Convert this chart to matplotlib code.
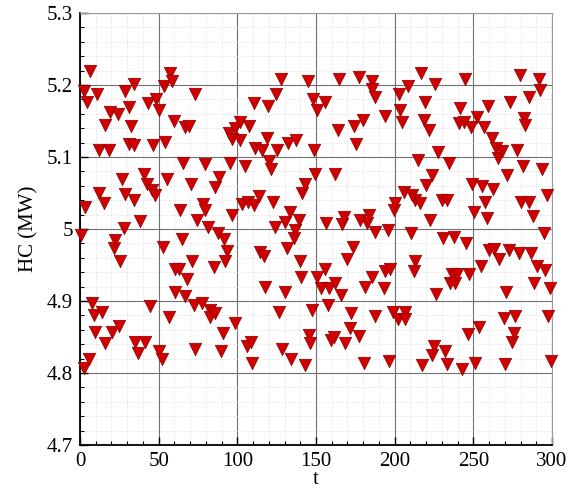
import matplotlib
matplotlib.use("Agg")
import matplotlib.pyplot as plt
from matplotlib.ticker import MultipleLocator

t = [0.8, 2.3, 2.3, 3.4, 4.5, 5.5, 6.6, 7.6, 8.7, 9.7, 10.8, 11.9, 11.9, 14.0, 15.1, 15.7, 16.1, 18.2, 19.3, 20.3,
     21.4, 22.5, 24.2, 24.6, 25.6, 26.7, 27.8, 28.8, 28.8, 30.9, 31.4, 32.6, 34.1, 34.1, 34.1, 35.2, 36.8, 38.0, 40.5, 41.5,
     42.6, 43.2, 44.7, 45.8, 46.2, 47.9, 48.3, 50.0, 50.0, 52.1, 52.6, 53.2, 54.2, 55.3, 56.4, 57.4, 58.5, 59.6, 60.6, 60.6,
     62.7, 63.8, 64.8, 65.3, 66.5, 67.0, 68.0, 69.5, 70.8, 71.2, 72.2, 72.9, 73.3, 74.4, 77.6, 78.0, 79.3, 79.3, 81.4, 82.8,
     82.8, 85.0, 85.6, 86.0, 87.7, 88.6, 89.8, 90.7, 91.3, 92.4, 93.4, 94.5, 95.6, 96.6, 96.6, 98.7, 98.7, 101.9, 101.9, 103.0,
     104.7, 106.2, 106.8, 107.2, 108.9, 109.3, 110.4, 110.4, 111.5, 113.6, 114.6, 115.7, 116.8, 117.8, 118.9, 119.5, 120.3, 121.6, 122.5, 123.8,
     124.6, 125.2, 126.3, 128.0, 128.4, 130.1, 130.5, 131.6, 132.2, 133.7, 134.3, 135.9, 136.5, 137.3, 139.0, 140.1, 140.7, 141.1, 142.8, 143.2,
     144.9, 145.4, 146.4, 147.5, 147.9, 148.6, 149.6, 150.7, 150.7, 153.4, 155.5, 155.5, 156.4, 157.7, 158.1, 159.8, 161.3, 161.9, 162.3, 164.0,
     164.4, 166.1, 166.6, 167.6, 168.7, 169.7, 171.8, 172.5, 173.3, 174.0, 175.5, 177.1, 177.6, 178.2, 179.7, 180.4, 181.4, 182.4, 183.5, 185.6,
     185.6, 185.6, 187.7, 187.7, 187.7, 193.1, 193.7, 194.1, 195.8, 196.6, 197.3, 198.7, 199.4, 200.4, 202.2, 202.6, 203.6, 204.7, 205.7, 206.8,
     206.8, 208.5, 210.6, 211.1, 212.1, 213.2, 213.2, 214.9, 216.3, 216.9, 217.4, 218.4, 219.5, 220.0, 222.1, 222.7, 223.8, 223.8, 224.8, 225.4,
     226.3, 227.5, 230.1, 230.5, 231.8, 233.3, 233.3, 234.4, 235.4, 236.5, 237.5, 238.6, 239.7, 240.7, 241.8, 242.9, 243.9, 244.5, 245.4, 246.7,
     247.5, 248.7, 249.2, 250.3, 251.3, 252.4, 253.5, 254.8, 255.6, 256.6, 257.7, 258.7, 259.4, 260.2, 261.9, 262.4, 263.0, 264.5, 265.8, 266.2,
     268.3, 269.3, 270.0, 270.8, 271.5, 272.9, 273.6, 274.6, 275.7, 276.7, 277.8, 278.9, 279.9, 280.6, 281.4, 282.0, 283.1, 285.2, 285.6, 286.9,
     287.8, 288.4, 290.5, 292.0, 292.6, 293.7, 294.8, 295.8, 296.9, 297.5, 299.0, 299.6]

hc = [4.992, 5.191, 4.807, 5.031, 5.177, 4.820, 5.220, 4.897, 4.881, 4.857, 5.188, 5.110, 5.050, 4.885, 5.036, 4.841, 5.144, 5.110, 5.163, 4.857,
      4.973, 4.985, 5.160, 4.865, 4.956, 5.070, 5.001, 5.191, 5.049, 5.118, 5.170, 5.143, 5.202, 5.117, 5.040, 4.843, 4.828, 5.011, 5.077, 4.843,
      5.063, 5.175, 4.893, 5.054, 5.117, 5.047, 5.181, 5.165, 4.830, 4.820, 4.975, 5.198, 5.121, 5.069, 4.878, 5.216, 5.205, 5.150, 4.944, 4.913,
      4.944, 5.026, 4.986, 5.092, 4.907, 5.141, 4.930, 5.143, 5.063, 4.955, 4.894, 5.188, 4.834, 5.012, 4.897, 5.035, 5.090, 5.026, 5.003, 4.888,
      4.878, 4.947, 5.058, 4.883, 4.994, 5.072, 4.830, 4.855, 4.986, 4.956, 4.970, 5.133, 5.092, 5.125, 5.019, 5.140, 4.869, 5.149, 5.124, 5.035,
      5.087, 4.837, 5.037, 5.143, 4.843, 4.814, 5.175, 5.033, 5.112, 5.046, 4.968, 5.110, 4.962, 4.920, 5.127, 5.171, 5.095, 5.084, 5.038, 5.003,
      5.188, 5.110, 4.885, 5.209, 4.834, 4.913, 5.010, 4.973, 5.120, 5.024, 4.820, 4.987, 4.999, 5.124, 5.012, 4.955, 4.933, 5.050, 5.063, 4.811,
      5.206, 4.853, 4.841, 4.888, 5.180, 5.110, 5.077, 5.165, 4.934, 4.918, 5.177, 4.944, 5.009, 4.894, 4.918, 4.846, 4.850, 5.077, 4.925, 5.138,
      5.209, 4.908, 5.007, 5.016, 4.842, 4.959, 4.862, 4.884, 4.975, 5.143, 5.118, 4.851, 5.211, 5.012, 5.151, 4.814, 4.919, 5.008, 5.019, 5.205,
      5.195, 4.933, 5.184, 4.996, 4.879, 4.918, 5.157, 4.941, 4.998, 4.816, 4.945, 4.885, 5.026, 5.036, 4.875, 5.188, 5.165, 5.149, 5.052, 4.885,
      4.875, 5.198, 4.995, 5.047, 4.941, 5.040, 4.955, 5.096, 5.036, 5.216, 4.811, 5.152, 5.177, 5.061, 5.138, 5.012, 5.075, 4.825, 4.838, 5.202,
      4.910, 5.107, 5.040, 4.987, 4.830, 5.040, 4.813, 5.092, 4.925, 4.938, 4.989, 4.925, 4.938, 5.147, 5.168, 4.805, 5.149, 5.209, 4.981, 4.854,
      4.937, 5.141, 5.063, 5.024, 4.814, 5.156, 4.864, 4.948, 5.060, 5.141, 5.037, 5.015, 5.171, 4.971, 5.126, 5.055, 4.972, 5.112, 5.098, 4.958,
      5.109, 4.876, 4.812, 4.913, 5.075, 4.971, 5.177, 4.843, 4.855, 4.879, 5.110, 4.967, 5.214, 5.038, 5.087, 5.154, 5.144, 5.038, 5.183, 4.966,
      5.018, 4.925, 4.949, 5.209, 5.193, 5.084, 4.994, 4.943, 5.047, 4.879, 4.918, 4.817]

x_ticks = [0, 50, 100, 150, 200, 250, 300]
y_ticks = [4.7, 4.8, 4.9, 5.0, 5.1, 5.2, 5.3]
y_tick_labels = ["4.7", "4.8", "4.9", "5", "5.1", "5.2", "5.3"]

plt.rcParams['font.family'] = ['Liberation Serif', 'DejaVu Serif']

fig = plt.figure(figsize=(5.70, 4.91), dpi=100)
ax = fig.add_axes([80/570, 46/491, 472/570, 432/491])

ax.set_xlim(0, 300)
ax.set_ylim(4.7, 5.3)
ax.set_xticks(x_ticks)
ax.set_yticks(y_ticks)
ax.set_yticklabels(y_tick_labels)
ax.xaxis.set_minor_locator(MultipleLocator(10))
ax.yaxis.set_minor_locator(MultipleLocator(0.02))

ax.grid(True, which='major', color='#707070', linewidth=0.8, linestyle='-')
ax.grid(True, which='minor', color='#d8d8d8', linewidth=0.6, linestyle=':')
ax.set_axisbelow(True)

ax.tick_params(which='major', direction='in', length=6, width=1.0, labelsize=15, pad=5)
ax.tick_params(which='minor', direction='in', length=3, width=0.8)
ax.tick_params(top=False, right=False, which='both')

for s in ['left', 'bottom']:
    ax.spines[s].set_color('black')
    ax.spines[s].set_linewidth(1.3)
for s in ['top', 'right']:
    ax.spines[s].set_color('#9a9a9a')
    ax.spines[s].set_linewidth(0.8)

ax.scatter(t, hc, marker='v', s=80, facecolor='#d10000', edgecolor='#8a0000',
           linewidths=0.5, zorder=3, clip_on=False)

ax.set_xlabel('t', fontsize=15)
ax.xaxis.set_label_coords(0.5, -0.058)
ax.set_ylabel('HC (MW)', fontsize=15, labelpad=6)

fig.savefig('out.png', dpi=100)
